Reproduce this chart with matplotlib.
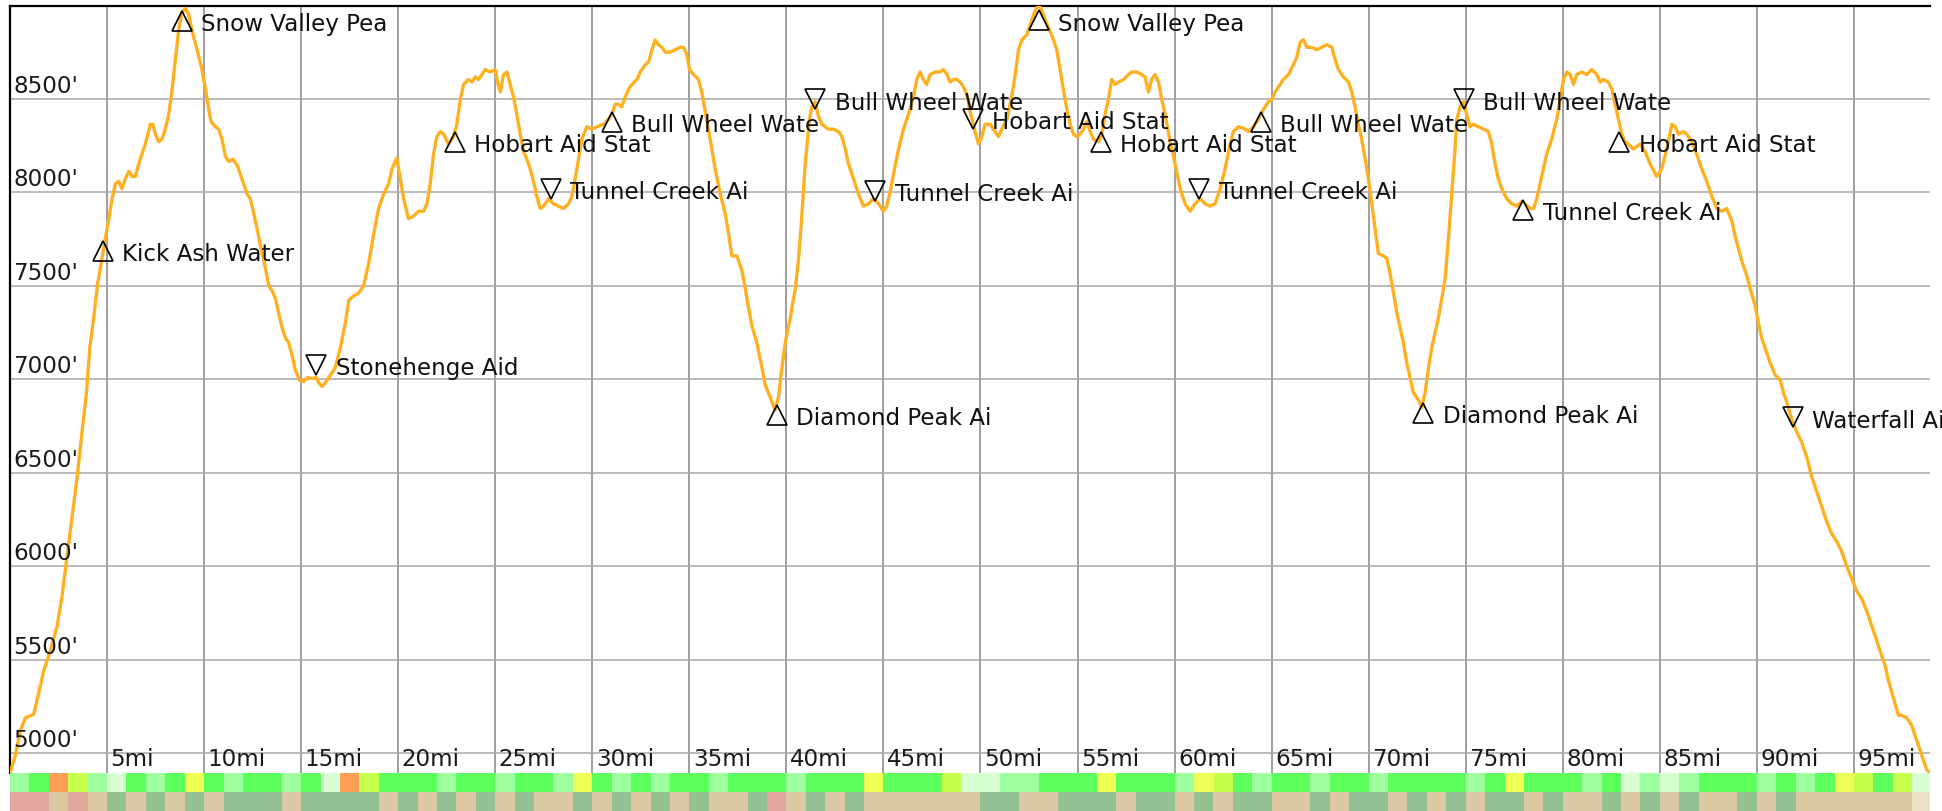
import numpy as np
import matplotlib
matplotlib.use("Agg")
import matplotlib.pyplot as plt
from matplotlib.colors import ListedColormap
import matplotlib.transforms as mtransforms

# ---------------- data ----------------
miles = [0.00, 0.28, 0.54, 0.79, 1.22, 1.39, 1.74, 2.08, 2.43, 2.68, 2.94, 3.20, 3.46, 3.71, 3.94,
         4.11, 4.31, 4.52, 4.83, 5.09, 5.26, 5.43, 5.60, 5.77, 5.94, 6.12, 6.29, 6.46, 6.63, 6.80,
         6.97, 7.23, 7.37, 7.49, 7.66, 7.83, 8.00, 8.18, 8.35, 8.52, 8.69, 8.86, 9.03, 9.21, 9.43,
         9.64, 9.89, 10.07, 10.24, 10.36, 10.58, 10.75, 10.92, 11.10, 11.27, 11.49, 11.73, 11.95,
         12.21, 12.38, 12.56, 12.73, 12.93, 13.16, 13.33, 13.50, 13.67, 13.84, 14.02, 14.19, 14.36,
         14.53, 14.70, 14.91, 15.13, 15.34, 15.56, 15.78, 15.90, 16.08, 16.25, 16.51, 16.76, 17.02,
         17.28, 17.45, 17.71, 17.96, 18.22, 18.48, 18.74, 18.99, 19.25, 19.51, 19.68, 19.93,
         20.28, 20.53, 20.79, 21.05, 21.31, 21.48, 21.65, 21.82, 21.99, 22.17, 22.34, 22.59, 22.85,
         23.02, 23.20, 23.37, 23.62, 23.80, 23.97, 24.14, 24.31, 24.48, 24.74, 25.00, 25.12, 25.26,
         25.43, 25.60, 25.77, 25.94, 26.11, 26.29, 26.46, 26.63, 26.80, 26.97, 27.14, 27.32, 27.49,
         27.75, 28.00, 28.26, 28.52, 28.78, 28.95, 29.12, 29.29, 29.46, 29.72, 29.98, 30.24, 30.58,
         30.84, 31.01, 31.18, 31.35, 31.52, 31.70, 31.87, 32.04, 32.30, 32.47, 32.73, 32.90, 33.07,
         33.24, 33.41, 33.58, 33.76, 34.01, 34.27, 34.53, 34.70, 34.87, 35.01, 35.22, 35.47, 35.64,
         35.82, 35.99, 36.16, 36.33, 36.59, 36.85, 37.02, 37.19, 37.45, 37.71, 37.88, 38.05, 38.22,
         38.48, 38.74, 38.91, 39.17, 39.42, 39.59, 39.77, 39.94, 40.20,
         40.46, 40.63, 40.75, 40.85, 40.97, 41.09, 41.19, 41.31, 41.48, 41.66, 41.83, 42.00, 42.17,
         42.43, 42.68, 42.86, 43.03, 43.20, 43.46, 43.71, 43.97, 44.23, 44.49, 44.75, 45.00, 45.17,
         45.35, 45.52, 45.78, 46.03, 46.29, 46.55, 46.72, 46.89, 47.06, 47.23, 47.41, 47.66, 47.92,
         48.09, 48.27, 48.44, 48.61, 48.78, 48.95, 49.12, 49.30, 49.47, 49.72, 49.90, 50.07, 50.24,
         50.50, 50.75, 50.93, 51.10, 51.36, 51.61, 51.79, 51.96, 52.13, 52.39, 52.56, 52.73, 52.90,
         53.07, 53.24, 53.50, 53.76, 53.93, 54.10, 54.27, 54.45, 54.62, 54.79, 54.96, 55.13, 55.31,
         55.48, 55.65, 55.82, 56.08, 56.25, 56.42, 56.59, 56.76, 56.94, 57.11, 57.37, 57.62, 57.79,
         58.05, 58.31, 58.48, 58.65, 58.82, 59.00, 59.17, 59.34, 59.51, 59.77,
         60.03, 60.29, 60.54, 60.80, 61.06, 61.32, 61.57, 61.83, 62.09, 62.35, 62.60, 62.86, 63.03,
         63.29, 63.55, 63.81, 64.06, 64.32, 64.58, 64.84, 65.01, 65.18, 65.35, 65.61, 65.87, 66.12,
         66.30, 66.47, 66.64, 66.81, 67.07, 67.33, 67.58, 67.84, 68.10, 68.27, 68.44, 68.70, 68.96,
         69.13, 69.30, 69.47, 69.64, 69.82, 69.99, 70.16, 70.33, 70.50, 70.76, 70.93, 71.10, 71.28,
         71.45, 71.62, 71.79, 71.96, 72.13, 72.30, 72.56, 72.73, 72.91, 73.08, 73.25, 73.42, 73.59,
         73.77, 73.94, 74.11, 74.28, 74.45, 74.54, 74.71, 74.88, 75.05, 75.22, 75.40, 75.65, 75.91,
         76.17, 76.34, 76.51, 76.68, 76.86, 77.11, 77.37, 77.63, 77.89, 78.06, 78.31, 78.49, 78.66,
         78.83, 79.00, 79.17, 79.43, 79.69, 79.86,
         80.03, 80.21, 80.38, 80.55, 80.72, 80.98, 81.24, 81.50, 81.75, 81.93, 82.10, 82.35, 82.53,
         82.70, 82.87, 83.04, 83.21, 83.38, 83.64, 83.81, 83.99, 84.24, 84.50, 84.84, 85.10, 85.36,
         85.62, 85.79, 85.96, 86.22, 86.39, 86.65, 86.90, 87.16, 87.42, 87.68, 87.94, 88.19, 88.45,
         88.71, 88.88, 89.05, 89.22, 89.48, 89.65, 89.91, 90.08, 90.25, 90.42, 90.68, 90.94, 91.20,
         91.37, 91.58, 91.80, 92.06, 92.31, 92.57, 92.83, 93.09, 93.34, 93.60, 93.86, 94.12, 94.37,
         94.63, 94.89, 95.15, 95.40, 95.66, 95.92, 96.18, 96.43, 96.61, 96.78, 97.04, 97.29, 97.46,
         97.72, 97.98, 98.23, 98.49, 98.75, 98.92]

elevation_ft = [4893, 4989, 5122, 5188, 5207, 5281, 5441, 5547, 5680, 5839, 6052, 6265, 6477, 6717, 6929,
                7168, 7328, 7514, 7700, 7859, 7966, 8046, 8059, 8019, 8072, 8112, 8085, 8085, 8152, 8205,
                8258, 8364, 8364, 8311, 8271, 8285, 8338, 8418, 8551, 8710, 8869, 8963, 8985, 8949, 8843,
                8763, 8657, 8551, 8444, 8378, 8351, 8338, 8285, 8192, 8165, 8178, 8139, 8072,
                7992, 7966, 7886, 7806, 7700, 7594, 7501, 7474, 7434, 7354, 7275, 7221, 7195,
                7128, 7049, 6996, 6988, 7009, 7004, 7009, 6982, 6961, 6982, 7022, 7062, 7168,
                7301, 7421, 7447, 7461, 7501, 7620, 7780, 7913, 7992, 8046, 8125, 8184,
                7966, 7859, 7873, 7899, 7899, 7939, 8046, 8205, 8298, 8325, 8311, 8258, 8298,
                8364, 8497, 8577, 8604, 8590, 8617, 8604, 8630, 8657, 8644, 8657, 8590, 8537,
                8630, 8644, 8577, 8511, 8418, 8311, 8218, 8178, 8125, 8059, 7979, 7913, 7926,
                7966, 7939, 7926, 7913, 7939, 7979, 8072, 8178, 8285, 8351, 8338, 8351, 8364,
                8391, 8418, 8471, 8471, 8457, 8511, 8551, 8577, 8604, 8644, 8683, 8697, 8763,
                8816, 8790, 8776, 8750, 8750, 8763, 8776, 8776, 8737, 8657, 8630, 8604, 8537,
                8431, 8338, 8232, 8125, 7992, 7886, 7780, 7660, 7660, 7580, 7487, 7381, 7288,
                7195, 7062, 6969, 6903, 6836, 6903, 7062, 7195, 7328,
                7487, 7647, 7806, 7966, 8152, 8285, 8391, 8457, 8484, 8404, 8364, 8351, 8338,
                8338, 8325, 8298, 8232, 8152, 8072, 7992, 7926, 7939, 7966, 7939, 7899, 7926,
                8006, 8099, 8232, 8338, 8418, 8511, 8604, 8644, 8604, 8577, 8630, 8644, 8644,
                8657, 8630, 8590, 8604, 8604, 8590, 8564, 8524, 8431, 8325, 8258, 8298, 8364,
                8364, 8325, 8298, 8338, 8391, 8511, 8630, 8763, 8816, 8843, 8896, 8949, 8989,
                8997, 8949, 8883, 8816, 8763, 8657, 8551, 8444, 8364, 8311, 8298, 8311, 8338,
                8378, 8325, 8285, 8271, 8311, 8418, 8497, 8604, 8577, 8590, 8604, 8630, 8644,
                8644, 8630, 8617, 8537, 8604, 8630, 8590, 8497, 8418, 8270,
                8150, 8019, 7939, 7899, 7939, 7966, 7939, 7926, 7939, 8019, 8125, 8258, 8325,
                8351, 8343, 8325, 8351, 8391, 8444, 8484, 8497, 8537, 8564, 8604, 8630, 8683,
                8723, 8803, 8816, 8776, 8776, 8763, 8776, 8790, 8776, 8710, 8657, 8617, 8590,
                8537, 8457, 8364, 8285, 8178, 8072, 7939, 7806, 7673, 7660, 7647, 7567, 7461,
                7354, 7275, 7195, 7089, 7009, 6929, 6889, 6849, 6929, 7062, 7168, 7248, 7328,
                7434, 7540, 7753, 7992, 8232, 8391, 8457, 8484, 8418, 8351, 8364, 8351, 8338,
                8325, 8258, 8152, 8072, 8019, 7966, 7939, 7926, 7952, 7939, 7913, 7913, 7966,
                8046, 8125, 8205, 8285, 8391, 8497,
                8600, 8644, 8630, 8577, 8630, 8644, 8630, 8657, 8630, 8590, 8604, 8590, 8551,
                8471, 8391, 8311, 8271, 8258, 8232, 8245, 8258, 8218, 8152, 8085, 8125, 8232,
                8364, 8351, 8311, 8325, 8311, 8271, 8205, 8125, 8059, 7979, 7913, 7899, 7913,
                7846, 7766, 7700, 7633, 7554, 7487, 7394, 7301, 7221, 7168, 7089, 7022, 6996,
                6929, 6863, 6783, 6717, 6663, 6584, 6477, 6398, 6318, 6238, 6172, 6132, 6079,
                5999, 5932, 5866, 5826, 5760, 5680, 5600, 5520, 5467, 5388, 5294, 5202, 5202,
                5188, 5148, 5069, 4989, 4910, 4893]

# waypoints (mile, elevation, marker direction, label)
wp_miles = [4.79, 8.86, 15.78, 22.91, 27.87, 31.01, 39.51, 41.48, 44.58, 49.61,
            52.99, 56.20, 61.28, 64.44, 72.82, 74.91, 77.97, 82.92, 91.85]
wp_elev = [7687, 8918, 7075, 8271, 8019, 8378, 6810, 8497, 8006, 8391,
           8920, 8271, 8019, 8378, 6818, 8497, 7907, 8271, 6796]
wp_dir = ['up', 'up', 'down', 'up', 'down', 'up', 'up', 'down', 'down', 'down',
          'up', 'up', 'down', 'up', 'up', 'down', 'up', 'up', 'down']
wp_names = ["Kick Ash Water", "Snow Valley Pea", "Stonehenge Aid", "Hobart Aid Stat",
            "Tunnel Creek Ai", "Bull Wheel Wate", "Diamond Peak Ai", "Bull Wheel Wate",
            "Tunnel Creek Ai", "Hobart Aid Stat", "Snow Valley Pea", "Hobart Aid Stat",
            "Tunnel Creek Ai", "Bull Wheel Wate", "Diamond Peak Ai", "Bull Wheel Wate",
            "Tunnel Creek Ai", "Hobart Aid Stat", "Waterfall Aid S"]

x_ticks = [5, 10, 15, 20, 25, 30, 35, 40, 45, 50, 55, 60, 65, 70, 75, 80, 85, 90, 95]
x_tick_labels = ["5mi", "10mi", "15mi", "20mi", "25mi", "30mi", "35mi", "40mi", "45mi", "50mi",
                 "55mi", "60mi", "65mi", "70mi", "75mi", "80mi", "85mi", "90mi", "95mi"]
y_ticks = [5000, 5500, 6000, 6500, 7000, 7500, 8000, 8500]
y_tick_labels = ["5000'", "5500'", "6000'", "6500'", "7000'", "7500'", "8000'", "8500'"]

# strips below the profile: one class per mile
grade_class = [1, 2, 5, 3, 1, 0, 2, 1, 2, 4,
               2, 1, 2, 2, 1, 2, 0, 5, 3, 2,
               2, 2, 1, 2, 2, 1, 2, 2, 1, 4,
               2, 1, 2, 1, 2, 2, 1, 2, 2, 2,
               1, 2, 2, 2, 4, 2, 2, 2, 3, 0,
               0, 1, 1, 2, 2, 2, 4, 2, 2, 2,
               1, 4, 3, 2, 1, 2, 2, 1, 2, 2,
               1, 2, 2, 2, 2, 1, 2, 4, 2, 2,
               2, 1, 2, 0, 1, 0, 1, 2, 2, 2,
               1, 2, 1, 2, 4, 3, 2, 3, 0]
grade_colors = ['#d8ffd2', '#9dff9d', '#5cff5c', '#c6ff4c', '#eeff55', '#ff9e55']

surface_class = [2, 2, 0, 2, 0, 1, 0, 1, 0, 1,
                 0, 1, 1, 1, 0, 1, 1, 1, 1, 0,
                 1, 0, 1, 0, 1, 0, 1, 0, 0, 1,
                 0, 1, 0, 1, 0, 1, 0, 0, 1, 2,
                 0, 1, 0, 1, 0, 0, 0, 0, 0, 0,
                 1, 1, 0, 0, 1, 1, 1, 0, 1, 1,
                 0, 1, 0, 1, 1, 0, 0, 1, 0, 1,
                 1, 0, 1, 0, 1, 0, 1, 1, 0, 1,
                 0, 0, 1, 0, 1, 0, 1, 0, 0, 1,
                 0, 1, 0, 0, 0, 0, 0, 0, 3]
surface_colors = ['#dcc9a3', '#94c194', '#e3a9a0', '#ece0c8']

# ---------------- figure ----------------
W, H = 1942, 812
fig = plt.figure(figsize=(W / 100, H / 100), dpi=100)
fig.patch.set_facecolor('white')

ax_l, ax_r, ax_t, ax_b = 10, 1930, 7, 774
ax = fig.add_axes([ax_l / W, 1 - ax_b / H, (ax_r - ax_l) / W, (ax_b - ax_t) / H])

ax.plot(miles, elevation_ft, color='#FFB020', lw=2.4, solid_joinstyle='round', zorder=3)
ax.set_xlim(0, max(miles))
ax.set_ylim(min(elevation_ft), max(elevation_ft))

ax.set_xticks(x_ticks)
ax.set_yticks(y_ticks)
ax.grid(True, axis='x', color='#858585', lw=1.1, zorder=1)
ax.grid(True, axis='y', color='#a8a8a8', lw=1.1, zorder=1)
ax.tick_params(axis='both', length=0, labelbottom=False, labelleft=False)

for s in ['right', 'bottom']:
    ax.spines[s].set_visible(False)
for s in ['left', 'top']:
    ax.spines[s].set_color('black')
    ax.spines[s].set_linewidth(1.6)

FS = 16.6
tx = mtransforms.blended_transform_factory(ax.transData, ax.transAxes)
for xv, lab in zip(x_ticks, x_tick_labels):
    ax.annotate(lab, (xv, 0), xycoords=tx, xytext=(2.6, 5.8), textcoords='offset points',
                ha='left', va='baseline', fontsize=FS, color='#1a1a1a', zorder=4)

ty = mtransforms.blended_transform_factory(ax.transAxes, ax.transData)
for yv, lab in zip(y_ticks, y_tick_labels):
    ax.annotate(lab, (0, yv), xycoords=ty, xytext=(2.4, 5.0), textcoords='offset points',
                ha='left', va='baseline', fontsize=FS, color='#1a1a1a', zorder=4)

for m, e, d, name in zip(wp_miles, wp_elev, wp_dir, wp_names):
    ax.plot([m], [e], marker='^' if d == 'up' else 'v', markersize=14,
            markerfacecolor='none', markeredgecolor='black', markeredgewidth=1.2,
            linestyle='none', zorder=5, clip_on=False)
    ax.annotate(name, (m, e), xytext=(14.0, -6.6), textcoords='offset points',
                ha='left', va='baseline', fontsize=FS, color='#111111', zorder=5,
                annotation_clip=False)

# strips
def strip(y_top, y_bot, classes, colors):
    a = fig.add_axes([ax_l / W, 1 - y_bot / H, (ax_r - ax_l) / W, (y_bot - y_top) / H])
    edges = np.arange(len(classes) + 1, dtype=float)
    a.pcolormesh(edges, [0, 1], np.array(classes)[None, :], cmap=ListedColormap(colors),
                 vmin=-0.5, vmax=len(colors) - 0.5, shading='flat')
    a.set_xlim(0, max(miles))
    a.set_ylim(0, 1)
    a.axis('off')
    return a

strip(774, 793, grade_class, grade_colors)
strip(793, 812, surface_class, surface_colors)

fig.savefig('out.png', dpi=100, facecolor='white')
